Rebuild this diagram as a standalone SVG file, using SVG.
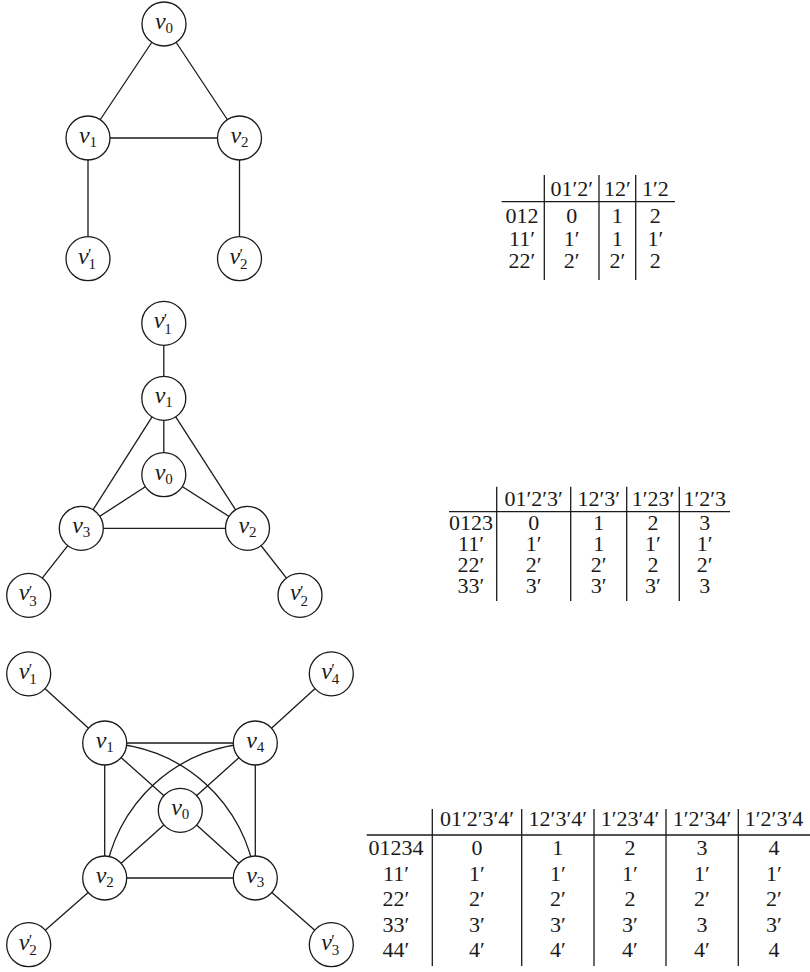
<svg xmlns="http://www.w3.org/2000/svg" width="810" height="972" viewBox="0 0 810 972">
<style>
  .e { stroke: #1a1a1a; stroke-width: 1.3; fill: none; }
  .n { fill: #ffffff; stroke: #1a1a1a; stroke-width: 1.3; }
  .v { font-family: "Liberation Serif", "Times New Roman", serif; font-size: 24px; font-style: italic; fill: #1a1a1a; }
  .s { font-style: normal; font-size: 15px; }
  .p { font-style: normal; font-size: 16px; }
  .t { font-family: "Liberation Serif", "Times New Roman", serif; font-size: 22px; fill: #1a1a1a; text-anchor: middle; }
  .r { stroke: #1a1a1a; stroke-width: 1.3; }
</style>
<rect width="810" height="972" fill="#ffffff"/>

<g id="connectors">
  <!-- graph 1 -->
  <line class="e" x1="164" y1="24" x2="88" y2="138"/>
  <line class="e" x1="164" y1="24" x2="239.5" y2="138"/>
  <line class="e" x1="88" y1="138" x2="239.5" y2="138"/>
  <line class="e" x1="88" y1="138" x2="88" y2="258.7"/>
  <line class="e" x1="239.5" y1="138" x2="239.5" y2="258.7"/>
  <!-- graph 2 -->
  <line class="e" x1="163.8" y1="323.3" x2="163.8" y2="398.3"/>
  <line class="e" x1="163.8" y1="398.3" x2="163.8" y2="474.7"/>
  <line class="e" x1="163.8" y1="398.3" x2="81.3" y2="528.3"/>
  <line class="e" x1="163.8" y1="398.3" x2="247.5" y2="528.3"/>
  <line class="e" x1="163.8" y1="474.7" x2="81.3" y2="528.3"/>
  <line class="e" x1="163.8" y1="474.7" x2="247.5" y2="528.3"/>
  <line class="e" x1="81.3" y1="528.3" x2="247.5" y2="528.3"/>
  <line class="e" x1="81.3" y1="528.3" x2="28.7" y2="595.3"/>
  <line class="e" x1="247.5" y1="528.3" x2="300" y2="595.3"/>
  <!-- graph 3 -->
  <line class="e" x1="28.7" y1="673.8" x2="104.7" y2="743"/>
  <line class="e" x1="331.3" y1="673.8" x2="255.3" y2="743"/>
  <line class="e" x1="28.7" y1="944.7" x2="104.7" y2="878"/>
  <line class="e" x1="331.3" y1="944.7" x2="255.3" y2="878"/>
  <line class="e" x1="104.7" y1="743" x2="255.3" y2="743"/>
  <line class="e" x1="104.7" y1="878" x2="255.3" y2="878"/>
  <line class="e" x1="104.7" y1="743" x2="104.7" y2="878"/>
  <line class="e" x1="255.3" y1="743" x2="255.3" y2="878"/>
  <line class="e" x1="104.7" y1="743" x2="180.3" y2="810.3"/>
  <line class="e" x1="255.3" y1="743" x2="180.3" y2="810.3"/>
  <line class="e" x1="104.7" y1="878" x2="180.3" y2="810.3"/>
  <line class="e" x1="255.3" y1="878" x2="180.3" y2="810.3"/>
  <path class="e" d="M 104.7 743 A 156.7 156.7 0 0 1 255.3 878"/>
  <path class="e" d="M 104.7 878 A 156.7 156.7 0 0 1 255.3 743"/>
</g>

<!-- graph 1 nodes -->
<g id="g1-v0"><circle class="n" cx="164" cy="24" r="22"/><text class="v" x="155" y="29">v<tspan class="s" x="165.5" y="33">0</tspan></text></g>
<g id="g1-v1"><circle class="n" cx="88" cy="138" r="22"/><text class="v" x="79" y="143">v<tspan class="s" x="89.5" y="147">1</tspan></text></g>
<g id="g1-v2"><circle class="n" cx="239.5" cy="138" r="22"/><text class="v" x="230.5" y="143">v<tspan class="s" x="241" y="147">2</tspan></text></g>
<g id="g1-v1p"><circle class="n" cx="88" cy="258.7" r="22"/><text class="v" x="78" y="263.7">v<tspan class="p" x="88" y="260">′</tspan><tspan class="s" x="88.5" y="269">1</tspan></text></g>
<g id="g1-v2p"><circle class="n" cx="239.5" cy="258.7" r="22"/><text class="v" x="229.5" y="263.7">v<tspan class="p" x="239.5" y="260">′</tspan><tspan class="s" x="240" y="269">2</tspan></text></g>

<!-- graph 2 nodes -->
<g id="g2-v1p"><circle class="n" cx="163.8" cy="323.3" r="22"/><text class="v" x="153.8" y="328.3">v<tspan class="p" x="163.8" y="324.6">′</tspan><tspan class="s" x="164.3" y="333.6">1</tspan></text></g>
<g id="g2-v1"><circle class="n" cx="163.8" cy="398.3" r="22"/><text class="v" x="154.8" y="403.3">v<tspan class="s" x="165.3" y="407.3">1</tspan></text></g>
<g id="g2-v0"><circle class="n" cx="163.8" cy="474.7" r="22"/><text class="v" x="154.8" y="479.7">v<tspan class="s" x="165.3" y="483.7">0</tspan></text></g>
<g id="g2-v3"><circle class="n" cx="81.3" cy="528.3" r="22"/><text class="v" x="72.3" y="533.3">v<tspan class="s" x="82.8" y="537.3">3</tspan></text></g>
<g id="g2-v2"><circle class="n" cx="247.5" cy="528.3" r="22"/><text class="v" x="238.5" y="533.3">v<tspan class="s" x="249" y="537.3">2</tspan></text></g>
<g id="g2-v3p"><circle class="n" cx="28.7" cy="595.3" r="22"/><text class="v" x="18.7" y="600.3">v<tspan class="p" x="28.7" y="596.6">′</tspan><tspan class="s" x="29.2" y="605.6">3</tspan></text></g>
<g id="g2-v2p"><circle class="n" cx="300" cy="595.3" r="22"/><text class="v" x="290" y="600.3">v<tspan class="p" x="300" y="596.6">′</tspan><tspan class="s" x="300.5" y="605.6">2</tspan></text></g>

<!-- graph 3 nodes -->
<g id="g3-v1p"><circle class="n" cx="28.7" cy="673.8" r="22"/><text class="v" x="18.7" y="678.8">v<tspan class="p" x="28.7" y="675.1">′</tspan><tspan class="s" x="29.2" y="684.1">1</tspan></text></g>
<g id="g3-v4p"><circle class="n" cx="331.3" cy="673.8" r="22"/><text class="v" x="321.3" y="678.8">v<tspan class="p" x="331.3" y="675.1">′</tspan><tspan class="s" x="331.8" y="684.1">4</tspan></text></g>
<g id="g3-v1"><circle class="n" cx="104.7" cy="743" r="22"/><text class="v" x="95.7" y="748">v<tspan class="s" x="106.2" y="752">1</tspan></text></g>
<g id="g3-v4"><circle class="n" cx="255.3" cy="743" r="22"/><text class="v" x="246.3" y="748">v<tspan class="s" x="256.8" y="752">4</tspan></text></g>
<g id="g3-v0"><circle class="n" cx="180.3" cy="810.3" r="22"/><text class="v" x="171.3" y="815.3">v<tspan class="s" x="181.8" y="819.3">0</tspan></text></g>
<g id="g3-v2"><circle class="n" cx="104.7" cy="878" r="22"/><text class="v" x="95.7" y="883">v<tspan class="s" x="106.2" y="887">2</tspan></text></g>
<g id="g3-v3"><circle class="n" cx="255.3" cy="878" r="22"/><text class="v" x="246.3" y="883">v<tspan class="s" x="256.8" y="887">3</tspan></text></g>
<g id="g3-v2p"><circle class="n" cx="28.7" cy="944.7" r="22"/><text class="v" x="18.7" y="949.7">v<tspan class="p" x="28.7" y="946">′</tspan><tspan class="s" x="29.2" y="955">2</tspan></text></g>
<g id="g3-v3p"><circle class="n" cx="331.3" cy="944.7" r="22"/><text class="v" x="321.3" y="949.7">v<tspan class="p" x="331.3" y="946">′</tspan><tspan class="s" x="331.8" y="955">3</tspan></text></g>

<!-- table 1 -->
<g id="table1">
  <line class="r" x1="501.7" y1="201.7" x2="675" y2="201.7"/>
  <line class="r" x1="544.3" y1="175" x2="544.3" y2="280"/>
  <line class="r" x1="599" y1="175" x2="599" y2="280"/>
  <line class="r" x1="635.7" y1="175" x2="635.7" y2="280"/>
  <text class="t" x="571.7" y="196">01′2′</text>
  <text class="t" x="617.3" y="196">12′</text>
  <text class="t" x="655.3" y="196">1′2</text>
  <text class="t" x="522" y="223">012</text>
  <text class="t" x="571.7" y="223">0</text>
  <text class="t" x="617.3" y="223">1</text>
  <text class="t" x="655.3" y="223">2</text>
  <text class="t" x="522" y="245.5">11′</text>
  <text class="t" x="571.7" y="245.5">1′</text>
  <text class="t" x="617.3" y="245.5">1</text>
  <text class="t" x="655.3" y="245.5">1′</text>
  <text class="t" x="522" y="268">22′</text>
  <text class="t" x="571.7" y="268">2′</text>
  <text class="t" x="617.3" y="268">2′</text>
  <text class="t" x="655.3" y="268">2</text>
</g>

<!-- table 2 -->
<g id="table2">
  <line class="r" x1="449" y1="511.7" x2="730" y2="511.7"/>
  <line class="r" x1="496.7" y1="486.7" x2="496.7" y2="601"/>
  <line class="r" x1="570.7" y1="486.7" x2="570.7" y2="601"/>
  <line class="r" x1="626.7" y1="486.7" x2="626.7" y2="601"/>
  <line class="r" x1="679.3" y1="486.7" x2="679.3" y2="601"/>
  <text class="t" x="533.7" y="506">01′2′3′</text>
  <text class="t" x="598.7" y="506">12′3′</text>
  <text class="t" x="653" y="506">1′23′</text>
  <text class="t" x="704.7" y="506">1′2′3</text>
  <text class="t" x="471" y="530">0123</text>
  <text class="t" x="533.7" y="530">0</text>
  <text class="t" x="598.7" y="530">1</text>
  <text class="t" x="653" y="530">2</text>
  <text class="t" x="704.7" y="530">3</text>
  <text class="t" x="471" y="551">11′</text>
  <text class="t" x="533.7" y="551">1′</text>
  <text class="t" x="598.7" y="551">1</text>
  <text class="t" x="653" y="551">1′</text>
  <text class="t" x="704.7" y="551">1′</text>
  <text class="t" x="471" y="572">22′</text>
  <text class="t" x="533.7" y="572">2′</text>
  <text class="t" x="598.7" y="572">2′</text>
  <text class="t" x="653" y="572">2</text>
  <text class="t" x="704.7" y="572">2′</text>
  <text class="t" x="471" y="593">33′</text>
  <text class="t" x="533.7" y="593">3′</text>
  <text class="t" x="598.7" y="593">3′</text>
  <text class="t" x="653" y="593">3′</text>
  <text class="t" x="704.7" y="593">3</text>
</g>

<!-- table 3 -->
<g id="table3">
  <line class="r" x1="366.7" y1="835" x2="810" y2="835"/>
  <line class="r" x1="432.3" y1="809" x2="432.3" y2="966"/>
  <line class="r" x1="521.7" y1="809" x2="521.7" y2="966"/>
  <line class="r" x1="594" y1="809" x2="594" y2="966"/>
  <line class="r" x1="666" y1="809" x2="666" y2="966"/>
  <line class="r" x1="738.3" y1="809" x2="738.3" y2="966"/>
  <text class="t" x="477" y="826">01′2′3′4′</text>
  <text class="t" x="557.8" y="826">12′3′4′</text>
  <text class="t" x="630" y="826">1′23′4′</text>
  <text class="t" x="702" y="826">1′2′34′</text>
  <text class="t" x="774" y="826">1′2′3′4</text>
  <text class="t" x="396" y="855">01234</text>
  <text class="t" x="477" y="855">0</text>
  <text class="t" x="557.8" y="855">1</text>
  <text class="t" x="630" y="855">2</text>
  <text class="t" x="702" y="855">3</text>
  <text class="t" x="774" y="855">4</text>
  <text class="t" x="396" y="880.5">11′</text>
  <text class="t" x="477" y="880.5">1′</text>
  <text class="t" x="557.8" y="880.5">1′</text>
  <text class="t" x="630" y="880.5">1′</text>
  <text class="t" x="702" y="880.5">1′</text>
  <text class="t" x="774" y="880.5">1′</text>
  <text class="t" x="396" y="906">22′</text>
  <text class="t" x="477" y="906">2′</text>
  <text class="t" x="557.8" y="906">2′</text>
  <text class="t" x="630" y="906">2</text>
  <text class="t" x="702" y="906">2′</text>
  <text class="t" x="774" y="906">2′</text>
  <text class="t" x="396" y="931.5">33′</text>
  <text class="t" x="477" y="931.5">3′</text>
  <text class="t" x="557.8" y="931.5">3′</text>
  <text class="t" x="630" y="931.5">3′</text>
  <text class="t" x="702" y="931.5">3</text>
  <text class="t" x="774" y="931.5">3′</text>
  <text class="t" x="396" y="957">44′</text>
  <text class="t" x="477" y="957">4′</text>
  <text class="t" x="557.8" y="957">4′</text>
  <text class="t" x="630" y="957">4′</text>
  <text class="t" x="702" y="957">4′</text>
  <text class="t" x="774" y="957">4</text>
</g>
</svg>
